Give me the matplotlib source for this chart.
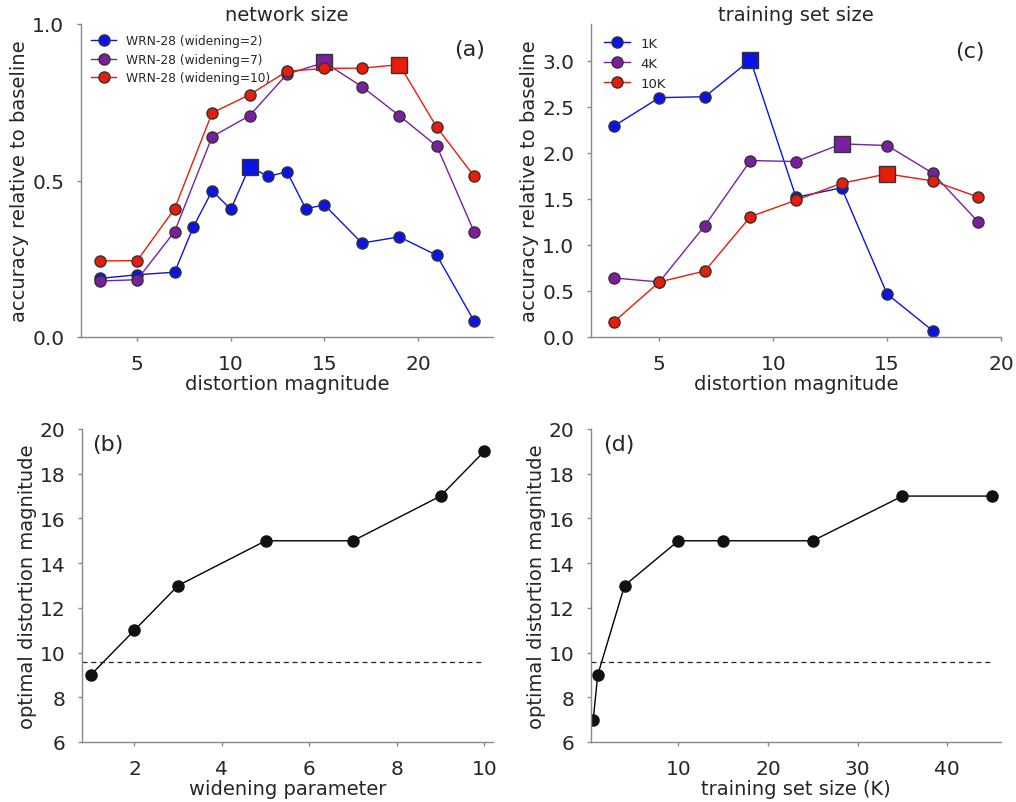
import matplotlib
matplotlib.use("Agg")
import matplotlib.pyplot as plt
import numpy as np

# ---- data ----
dist_a = [3, 5, 7, 8, 9, 10, 11, 12, 13, 14, 15, 17, 19, 21, 23]
acc_w2 = [0.187, 0.199, 0.207, 0.352, 0.467, 0.408, 0.544, 0.513, 0.528, 0.41, 0.422, 0.30, 0.32, 0.261, 0.05]
dist_a2 = [3, 5, 7, 9, 11, 13, 15, 17, 19, 21, 23]
acc_w7 = [0.179, 0.183, 0.337, 0.64, 0.707, 0.84, 0.877, 0.80, 0.707, 0.61, 0.335]
acc_w10 = [0.243, 0.244, 0.41, 0.716, 0.774, 0.849, 0.858, 0.859, 0.87, 0.67, 0.513]
labels_a = ["WRN-28 (widening=2)", "WRN-28 (widening=7)", "WRN-28 (widening=10)"]

dist_c_1k = [3, 5, 7, 9, 11, 13, 15, 17]
acc_1k = [2.29, 2.60, 2.61, 3.01, 1.518, 1.62, 0.467, 0.069]
dist_c = [3, 5, 7, 9, 11, 13, 15, 17, 19]
acc_4k = [0.641, 0.598, 1.21, 1.917, 1.906, 2.098, 2.08, 1.78, 1.25]
acc_10k = [0.163, 0.598, 0.717, 1.308, 1.486, 1.67, 1.772, 1.696, 1.52]
labels_c = ["1K", "4K", "10K"]

widening = [1, 2, 3, 5, 7, 9, 10]
opt_widening = [9, 11, 13, 15, 15, 17, 19]
train_size = [0.5, 1, 4, 10, 15, 25, 35, 45]
opt_train = [7, 9, 13, 15, 15, 15, 17, 17]
baseline_opt = 9.6

colors = ["#0a14e6", "#7a1fa0", "#e81c0a"]
edge = "#333333"
text_c = "#262626"
spine_c = "#888888"

plt.rcParams['font.family'] = ['DejaVu Sans']
plt.rcParams['text.color'] = text_c
plt.rcParams['axes.labelcolor'] = text_c
plt.rcParams['xtick.color'] = text_c
plt.rcParams['ytick.color'] = text_c

W, H = 1016, 803
fig = plt.figure(figsize=(W / 100, H / 100), dpi=100)

def ax_at(l, r, t, b):
    return fig.add_axes([l / W, 1 - b / H, (r - l) / W, (b - t) / H])

axa = ax_at(81, 493, 25, 338)
axc = ax_at(591, 1001, 25, 338)
axb = ax_at(82, 493, 430, 743)
axd = ax_at(591, 1001, 430, 743)

def style(ax):
    for s in ["top", "right"]:
        ax.spines[s].set_visible(False)
    for s in ["left", "bottom"]:
        ax.spines[s].set_color(spine_c)
        ax.spines[s].set_linewidth(1.0)
    ax.tick_params(axis="both", length=3, width=1, color=spine_c, labelsize=14.5)
    ax.tick_params(axis="x", pad=9)
    ax.tick_params(axis="y", pad=9)

ms = 8
sq = 11

# panel (a)
series_a = [(dist_a, acc_w2), (dist_a2, acc_w7), (dist_a2, acc_w10)]
for (x, y), c, lab in zip(series_a, colors, labels_a):
    axa.plot(x, y, "-o", color=c, lw=1, ms=ms, mfc=c, mec=edge, mew=1, label=lab)
    i = int(np.argmax(y))
    axa.plot([x[i]], [y[i]], "s", color=c, ms=sq, mfc=c, mec=edge, mew=1)
axa.set_xlim(2, 24)
axa.set_ylim(0, 1.0)
axa.set_xticks([5, 10, 15, 20])
axa.set_yticks([0.0, 0.5, 1.0])
axa.set_xlabel("distortion magnitude", fontsize=14, labelpad=1)
axa.set_ylabel("accuracy relative to baseline", fontsize=14, labelpad=2)
axa.set_title("network size", fontsize=14, pad=3)
axa.text(0.98, 0.92, "(a)", transform=axa.transAxes, fontsize=16, ha="right", va="center")
axa.legend(loc="upper left", fontsize=8.8, frameon=False, bbox_to_anchor=(0.0, 1.0),
           handlelength=2.0, borderpad=0.35, labelspacing=0.45)
style(axa)

# panel (c)
series_c = [(dist_c_1k, acc_1k), (dist_c, acc_4k), (dist_c, acc_10k)]
for (x, y), c, lab in zip(series_c, colors, labels_c):
    axc.plot(x, y, "-o", color=c, lw=1, ms=ms, mfc=c, mec=edge, mew=1, label=lab)
    i = int(np.argmax(y))
    axc.plot([x[i]], [y[i]], "s", color=c, ms=sq, mfc=c, mec=edge, mew=1)
axc.set_xlim(2, 20)
axc.set_ylim(0, 3.4)
axc.set_xticks([5, 10, 15, 20])
axc.set_yticks([0.0, 0.5, 1.0, 1.5, 2.0, 2.5, 3.0])
axc.set_xlabel("distortion magnitude", fontsize=14, labelpad=1)
axc.set_ylabel("accuracy relative to baseline", fontsize=14, labelpad=2)
axc.set_title("training set size", fontsize=14, pad=3)
axc.text(0.96, 0.915, "(c)", transform=axc.transAxes, fontsize=16, ha="right", va="center")
axc.legend(loc="upper left", fontsize=9.5, frameon=False, bbox_to_anchor=(0.0, 1.0),
           handlelength=2.0, borderpad=0.45, labelspacing=0.55)
style(axc)

# panel (b)
axb.plot(widening, opt_widening, "-o", color="black", lw=1, ms=ms, mfc="#111111", mec="#111111")
axb.hlines(baseline_opt, 0.8, 10, colors="#222222", linestyles=(0, (4, 3)), lw=0.9)
axb.set_xlim(0.8, 10.2)
axb.set_ylim(6, 20)
axb.set_xticks([2, 4, 6, 8, 10])
axb.set_yticks([6, 8, 10, 12, 14, 16, 18, 20])
axb.set_xlabel("widening parameter", fontsize=14, labelpad=1)
axb.set_ylabel("optimal distortion magnitude", fontsize=14, labelpad=2)
axb.text(0.024, 0.952, "(b)", transform=axb.transAxes, fontsize=16, ha="left", va="center")
style(axb)

# panel (d)
axd.plot(train_size, opt_train, "-o", color="black", lw=1, ms=ms, mfc="#111111", mec="#111111")
axd.hlines(baseline_opt, 0.25, 45, colors="#222222", linestyles=(0, (4, 3)), lw=0.9)
axd.set_xlim(0.25, 46)
axd.set_ylim(6, 20)
axd.set_xticks([10, 20, 30, 40])
axd.set_yticks([6, 8, 10, 12, 14, 16, 18, 20])
axd.set_xlabel("training set size (K)", fontsize=14, labelpad=1)
axd.set_ylabel("optimal distortion magnitude", fontsize=14, labelpad=2)
axd.text(0.03, 0.952, "(d)", transform=axd.transAxes, fontsize=16, ha="left", va="center")
style(axd)

fig.savefig("out.png", dpi=100)
